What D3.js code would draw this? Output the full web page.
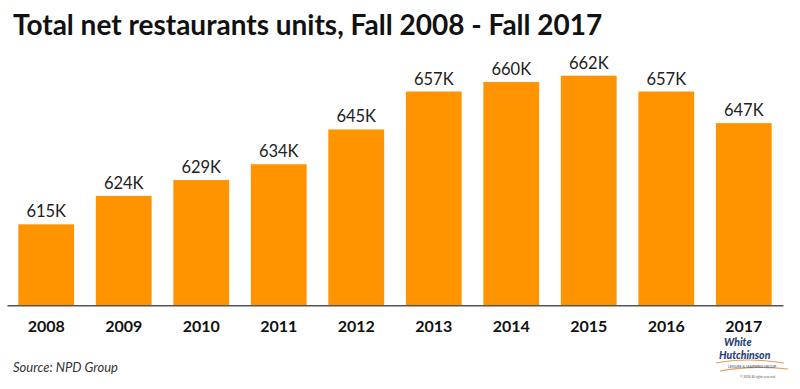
<!DOCTYPE html>
<html><head><meta charset="utf-8">
<script src="https://cdn.jsdelivr.net/npm/d3@7"></script>
<style>body{margin:0;background:#fff}svg{display:block}</style>
</head><body>
<svg id="c" width="800" height="389"></svg>
<script>
const years = ["2008","2009","2010","2011","2012","2013","2014","2015","2016","2017"];
const units = [615,624,629,634,645,657,660,662,657,647];
const labels = ["615K","624K","629K","634K","645K","657K","660K","662K","657K","647K"];

const svg = d3.select("#c");
const x = d3.scaleBand().domain(years).range([7,783]).paddingInner(0.28).paddingOuter(0.146);
const y = d3.scaleLinear().domain([589.4, 662]).range([305.3, 75.7]);

svg.append("text").attr("x",13).attr("y",35)
  .attr("font-family","Lato, 'Open Sans', sans-serif").attr("font-weight",700)
  .attr("font-size",28).attr("fill","#111")
  .text("Total net restaurants units, Fall 2008 - Fall 2017");

svg.append("g").selectAll("rect").data(years).join("rect")
  .attr("x",d=>x(d)).attr("width",x.bandwidth())
  .attr("y",(d,i)=>y(units[i])).attr("height",(d,i)=>y.range()[0]-y(units[i]))
  .attr("fill","#FF9400");

svg.append("g").selectAll("text").data(years).join("text")
  .attr("x",d=>x(d)+x.bandwidth()/2).attr("y",(d,i)=>y(units[i])-7)
  .attr("text-anchor","middle").attr("font-family","Lato, sans-serif")
  .attr("font-size",16.5).attr("fill","#222").text((d,i)=>labels[i]);

const ax = svg.append("g").attr("transform","translate(0,305.3)")
  .call(d3.axisBottom(x).tickSize(0).tickPadding(15));
ax.select(".domain").attr("stroke","#555").attr("stroke-width",1.5);
ax.selectAll("text").attr("font-family","Lato, sans-serif").attr("font-weight",700)
  .attr("font-size",16).attr("fill","#111");

svg.append("text").attr("x",13).attr("y",372)
  .attr("font-family","Lato, sans-serif").attr("font-style","italic")
  .attr("font-size",13).attr("fill","#333").text("Source: NPD Group");

// logo
const lg = svg.append("g").attr("transform","translate(716,336)");
lg.append("text").attr("x",8).attr("y",10).attr("font-family","Lato, sans-serif")
  .attr("font-weight",900).attr("font-style","italic").attr("font-size",10.5).attr("fill","#2a3f7a").text("White");
lg.append("text").attr("x",3).attr("y",23).attr("font-family","Lato, sans-serif")
  .attr("font-weight",900).attr("font-style","italic").attr("font-size",10.5).attr("fill","#2a3f7a").text("Hutchinson");
lg.append("path").attr("d","M0,27 Q30,21 68,27 M4,35 Q36,29 72,33")
  .attr("fill","none").attr("stroke","#e0a060").attr("stroke-width",1.2);
lg.append("text").attr("x",12).attr("y",32).attr("font-family","Lato, sans-serif")
  .attr("font-size",3.5).attr("fill","#2a3f7a").text("LEISURE & LEARNING GROUP");
lg.append("text").attr("x",24).attr("y",42).attr("font-family","Lato, sans-serif")
  .attr("font-size",3).attr("fill","#555").text("© 2018, All rights reserved");
</script>
</body></html>
